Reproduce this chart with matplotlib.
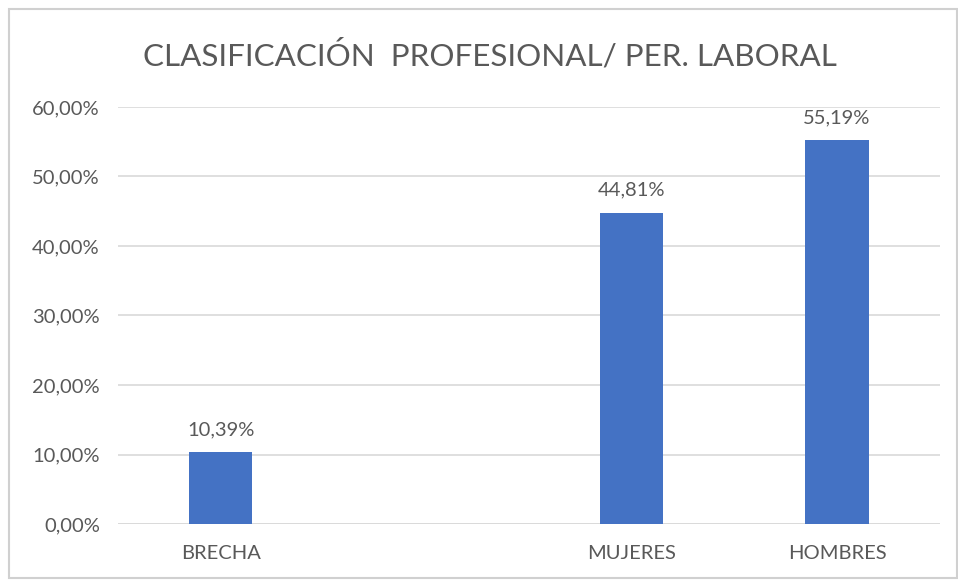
import matplotlib.pyplot as plt
from matplotlib.patches import Rectangle

categories = ["BRECHA", "", "MUJERES", "HOMBRES"]
values = [10.39, None, 44.81, 55.19]
labels = ["10,39%", "", "44,81%", "55,19%"]
yticks = [0, 10, 20, 30, 40, 50, 60]

plt.rcParams['font.family'] = ['Lato', 'DejaVu Sans']
txt = "#595959"
fs = 14.5

fig = plt.figure(figsize=(9.58, 5.81), dpi=100)
ax = fig.add_axes([0.123, 0.098, 0.858, 0.718])

x = list(range(len(categories)))
for i, v in enumerate(values):
  if v is None:
    continue  # empty slot between BRECHA and MUJERES
  ax.bar(i, v, width=0.31, color="#4472C4", zorder=3)
  ax.text(i, v + 2.0, labels[i], ha="center", va="bottom", fontsize=fs, color=txt)

ax.set_xlim(-0.5, len(categories) - 0.5)
ax.set_ylim(0, 60)
ax.set_yticks(yticks)
ax.set_yticklabels([f"{t},00%" for t in yticks], fontsize=fs, color=txt)
ax.set_xticks(x)
ax.set_xticklabels(categories, fontsize=fs, color=txt)
ax.tick_params(length=0, pad=13)
ax.tick_params(axis="x", pad=15)
ax.grid(axis="y", color="#D9D9D9", linewidth=1.2, zorder=0)
for s in ax.spines.values():
  s.set_visible(False)
ax.axhline(0, color="#D9D9D9", linewidth=1.2, zorder=2)

fig.text(0.511, 0.905, "CLASIFICACIÓN  PROFESIONAL/ PER. LABORAL", ha="center", va="center",
         fontsize=22.6, color=txt)

# chart border
fig.patches.append(Rectangle((0.009, 0.005), 0.99, 0.98, transform=fig.transFigure,
                             fill=False, edgecolor="#D0D0D0", linewidth=1.5))

fig.savefig("out.png", dpi=100)
